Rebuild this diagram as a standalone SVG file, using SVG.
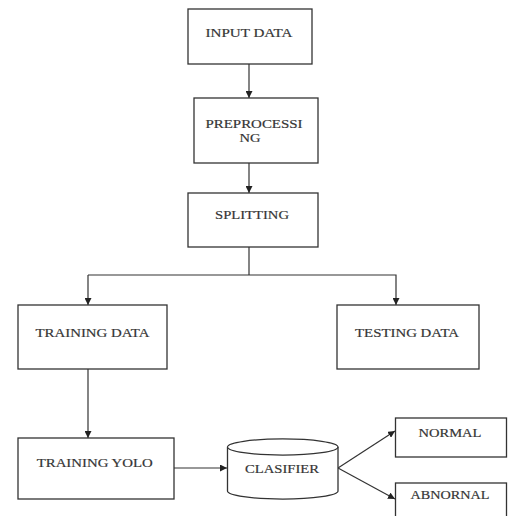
<svg xmlns="http://www.w3.org/2000/svg" width="510" height="516" viewBox="0 0 510 516">
<style>
.box{fill:#fff;stroke:#333;stroke-width:1.3}
.t{font-family:"Liberation Serif","Times New Roman",serif;font-size:12.5px;fill:#333;stroke:#444;stroke-width:0.2;text-anchor:middle}
.c{fill:none;stroke:#333;stroke-width:1.2}
</style>
<defs>
<marker id="ah" viewBox="0 0 10 10" refX="10" refY="5" markerWidth="7" markerHeight="7" markerUnits="userSpaceOnUse" orient="auto">
<path d="M0,0 L10,5 L0,10 z" fill="#222"/>
</marker>
</defs>
<rect width="510" height="516" fill="#fff"/>
<g id="connectors">
<line class="c" x1="249" y1="64" x2="249" y2="98" marker-end="url(#ah)"/>
<line class="c" x1="249" y1="163" x2="249" y2="193" marker-end="url(#ah)"/>
<polyline class="c" points="249,247 249,275"/>
<polyline class="c" points="88,275 396,275 396,305" marker-end="url(#ah)"/>
<line class="c" x1="88" y1="275" x2="88" y2="305" marker-end="url(#ah)"/>
<line class="c" x1="88" y1="369" x2="88" y2="438" marker-end="url(#ah)"/>
<line class="c" x1="174" y1="468" x2="227" y2="468" marker-end="url(#ah)"/>
<line class="c" x1="338" y1="468" x2="395" y2="431" marker-end="url(#ah)"/>
<line class="c" x1="338" y1="468" x2="395" y2="499" marker-end="url(#ah)"/>
</g>
<g id="input-data">
<rect class="box" x="188" y="9" width="124" height="55"/>
<text class="t" x="249" y="37" textLength="87" lengthAdjust="spacingAndGlyphs">INPUT DATA</text>
</g>
<g id="preprocessing">
<rect class="box" x="194" y="98" width="124" height="65"/>
<text class="t" x="254" y="128" textLength="97" lengthAdjust="spacingAndGlyphs">PREPROCESSI</text>
<text class="t" x="250" y="142" textLength="21" lengthAdjust="spacingAndGlyphs">NG</text>
</g>
<g id="splitting">
<rect class="box" x="188" y="193" width="130" height="54"/>
<text class="t" x="252" y="219" textLength="74" lengthAdjust="spacingAndGlyphs">SPLITTING</text>
</g>
<g id="training-data">
<rect class="box" x="18" y="305" width="149" height="64"/>
<text class="t" x="92.5" y="337" textLength="114" lengthAdjust="spacingAndGlyphs">TRAINING DATA</text>
</g>
<g id="testing-data">
<rect class="box" x="337" y="305" width="142" height="64"/>
<text class="t" x="407" y="337" textLength="104" lengthAdjust="spacingAndGlyphs">TESTING DATA</text>
</g>
<g id="training-yolo">
<rect class="box" x="18" y="438" width="156" height="61"/>
<text class="t" x="94.7" y="467" textLength="116" lengthAdjust="spacingAndGlyphs">TRAINING YOLO</text>
</g>
<g id="clasifier">
<path class="box" d="M227.5,447 A55,8 0 0 1 338,447 L338,491 A55,8 0 0 1 227.5,491 Z"/>
<path class="c" d="M227.5,447 A55,8 0 0 0 338,447"/>
<text class="t" x="282" y="473" textLength="74" lengthAdjust="spacingAndGlyphs">CLASIFIER</text>
</g>
<g id="normal">
<rect class="box" x="395.5" y="418" width="111" height="39"/>
<text class="t" x="450" y="437" textLength="63" lengthAdjust="spacingAndGlyphs">NORMAL</text>
</g>
<g id="abnornal">
<rect class="box" x="395.5" y="483" width="111" height="40"/>
<text class="t" x="450" y="499" textLength="79" lengthAdjust="spacingAndGlyphs">ABNORNAL</text>
</g>
</svg>
